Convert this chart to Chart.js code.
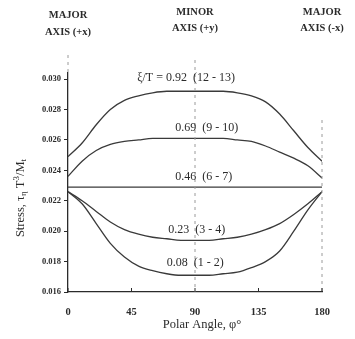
<!DOCTYPE html>
<html>
<head>
<meta charset="utf-8">
<script src="https://cdn.jsdelivr.net/npm/chart.js@4.4.0/dist/chart.umd.min.js"></script>
<style>
  html, body { margin: 0; padding: 0; background: #fff; }
  #wrap { width: 355px; height: 339px; }
</style>
</head>
<body>
<div id="wrap"><canvas id="stressChart" width="355" height="339"></canvas></div>
<script>
// polar angle, degrees
var angles = [0, 10, 20, 30, 40, 50, 60, 70, 80, 90, 100, 110, 120, 130, 140, 150, 160, 170, 180];

// stress for each xi/T
var s092 = [0.0249, 0.0258, 0.0270, 0.0280, 0.0286, 0.0289, 0.0291, 0.0292, 0.0292, 0.0292, 0.0292, 0.0292, 0.0291, 0.0289, 0.0285, 0.0277, 0.0266, 0.0255, 0.0246];
var s069 = [0.0236, 0.0246, 0.0253, 0.0257, 0.0259, 0.0260, 0.0261, 0.0261, 0.0261, 0.0261, 0.0261, 0.0261, 0.0260, 0.0259, 0.0256, 0.0252, 0.0248, 0.0243, 0.0235];
var s046 = [0.0229, 0.0229, 0.0229, 0.0229, 0.0229, 0.0229, 0.0229, 0.0229, 0.0229, 0.0229, 0.0229, 0.0229, 0.0229, 0.0229, 0.0229, 0.0229, 0.0229, 0.0229, 0.0229];
var s023 = [0.0226, 0.0220, 0.0213, 0.0206, 0.0201, 0.0198, 0.0196, 0.0195, 0.0194, 0.0194, 0.0194, 0.0195, 0.0196, 0.0198, 0.0201, 0.0205, 0.0211, 0.0218, 0.0226];
var s008 = [0.0226, 0.0218, 0.0205, 0.0192, 0.0183, 0.0177, 0.0174, 0.0172, 0.0171, 0.0171, 0.0171, 0.0172, 0.0173, 0.0176, 0.0180, 0.0187, 0.0200, 0.0214, 0.0226];

var curveNames = ['\u03BE/T = 0.92  (12 - 13)', '0.69  (9 - 10)', '0.46  (6 - 7)', '0.23  (3 - 4)', '0.08  (1 - 2)'];
var xTicks = [0, 45, 90, 135, 180];
var yTicks = [0.016, 0.018, 0.020, 0.022, 0.024, 0.026, 0.028, 0.030];
var headers = [['MAJOR', 'AXIS (+x)'], ['MINOR', 'AXIS (+y)'], ['MAJOR', 'AXIS (-x)']];

var serif = "'Liberation Serif', 'DejaVu Serif', serif";
var ink = '#2b2b2b';

function series(vals) {
    return {
        data: vals.map(function (v, i) { return {x: angles[i], y: v}; }),
        borderColor: '#3a3a3a',
        borderWidth: 1.3,
        pointRadius: 0,
        fill: false,
        cubicInterpolationMode: 'monotone'
    };
}

// text, reference lines and inward ticks
var decor = {
    id: 'decor',
    afterDraw: function (chart) {
        var c = chart.ctx, xs = chart.scales.x, ys = chart.scales.y;
        var bottom = chart.chartArea.bottom, top = chart.chartArea.top;
        c.save();

        // dashed guide lines
        c.strokeStyle = '#9a9a9a';
        c.lineWidth = 1;
        c.setLineDash([3, 4]);
        c.beginPath();
        c.moveTo(xs.getPixelForValue(0), 55); c.lineTo(xs.getPixelForValue(0), top);
        c.moveTo(xs.getPixelForValue(90), 60); c.lineTo(xs.getPixelForValue(90), bottom);
        c.moveTo(xs.getPixelForValue(180), 120); c.lineTo(xs.getPixelForValue(180), bottom);
        c.stroke();
        c.setLineDash([]);

        // x ticks pointing up
        c.strokeStyle = ink;
        c.beginPath();
        xTicks.forEach(function (t) {
            var px = xs.getPixelForValue(t);
            c.moveTo(px, bottom); c.lineTo(px, bottom - 4);
        });
        c.stroke();

        // headers
        c.fillStyle = ink;
        c.textAlign = 'center';
        c.textBaseline = 'middle';
        c.font = 'bold 10.5px ' + serif;
        var hx = [0, 90, 180], hy = [[15, 32], [12, 28], [12, 28]];
        headers.forEach(function (h, i) {
            var px = xs.getPixelForValue(hx[i]);
            c.fillText(h[0], px, hy[i][0]);
            c.fillText(h[1], px, hy[i][1]);
        });

        // curve labels
        c.font = '12px ' + serif;
        c.textAlign = 'left';
        var lx = [49, 76, 76, 71, 70], ly = [0.03008, 0.02679, 0.02357, 0.02008, 0.01791];
        curveNames.forEach(function (n, i) {
            c.fillText(n, xs.getPixelForValue(lx[i]), ys.getPixelForValue(ly[i]));
        });

        // x title
        c.textAlign = 'center';
        c.font = '12.5px ' + serif;
        c.fillText('Polar Angle, \u03C6\u00B0', 202, 325);

        // y title with subscripts, rotated
        c.translate(21, 198);
        c.rotate(-Math.PI / 2);
        var parts = [['Stress, \u03C4', 12.5, 0], ['\u03B7', 9, 3], [' T', 12.5, 0], ['3', 9, -4], ['/M', 12.5, 0], ['t', 9, 3]];
        var w = 0;
        parts.forEach(function (p) { c.font = p[1] + 'px ' + serif; w += c.measureText(p[0]).width; });
        var x0 = -w / 2;
        c.textAlign = 'left';
        parts.forEach(function (p) {
            c.font = p[1] + 'px ' + serif;
            c.fillText(p[0], x0, p[2]);
            x0 += c.measureText(p[0]).width;
        });
        c.restore();
    }
};

var ctx = document.getElementById('stressChart').getContext('2d');
var myChart = new Chart(ctx, {
    type: 'line',
    data: {
        datasets: [series(s092), series(s069), series(s046), series(s023), series(s008)]
    },
    options: {
        responsive: false,
        animation: false,
        layout: { padding: { top: 73, right: 33, left: 0, bottom: 0 } },
        plugins: { legend: { display: false }, tooltip: { enabled: false } },
        scales: {
            x: {
                type: 'linear',
                min: 0,
                max: 180,
                afterBuildTicks: function (axis) { axis.ticks = xTicks.map(function (v) { return {value: v}; }); },
                afterFit: function (axis) { axis.height = 47; },
                grid: { display: false },
                border: { display: true, color: ink, width: 1.3 },
                ticks: { color: ink, font: { family: serif, size: 10.5, weight: 'bold' }, padding: 6, maxRotation: 0 }
            },
            y: {
                min: 0.016,
                max: 0.0304,
                afterBuildTicks: function (axis) { axis.ticks = yTicks.map(function (v) { return {value: v}; }); },
                afterFit: function (axis) { axis.width = 68; },
                grid: { drawOnChartArea: false, drawTicks: true, tickLength: 4, color: ink },
                border: { display: true, color: ink, width: 1.3 },
                ticks: {
                    color: ink,
                    padding: 3,
                    font: { family: serif, size: 8.5, weight: 'bold' },
                    callback: function (v) { return v.toFixed(3); }
                }
            }
        }
    },
    plugins: [decor]
});
</script>
</body>
</html>
